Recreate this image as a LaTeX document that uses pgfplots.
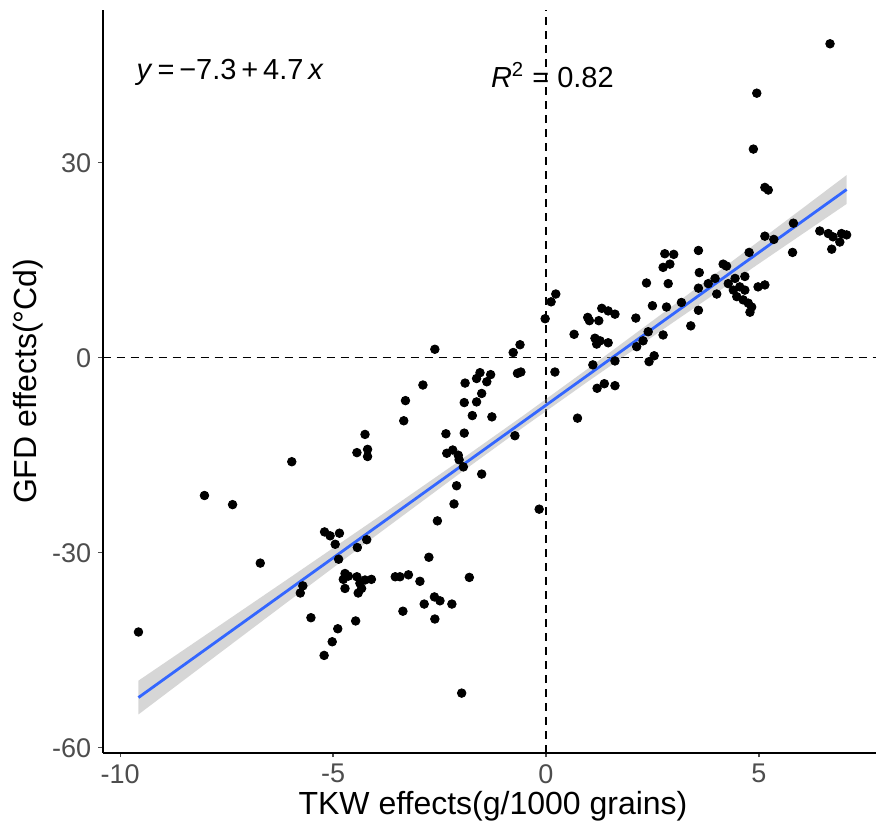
\documentclass[border=0pt]{standalone}
\usepackage{pgfplots}
\pgfplotsset{compat=1.18}
\usepackage{fontspec}
\setmainfont{Liberation Sans}
\definecolor{lineblue}{HTML}{3366FF}
\definecolor{ribbongray}{HTML}{999999}
\definecolor{ticktext}{HTML}{4D4D4D}
\begin{document}
\begin{tikzpicture}
\begin{axis}[
  name=ax,
  at={(0,0)}, anchor=south west,
  scale only axis, width=386.65pt, height=371.35pt,
  xmin=-10.41, xmax=7.75, ymin=-60.77, ymax=53.5,
  axis lines=left,
  axis line style={-, line width=1.1pt, black},
  xtick={-10,-5,0,5}, xticklabels={-10,-5,0,5},
  ytick={-60,-30,0,30}, yticklabels={-60,-30,0,30},
  tick align=outside, major tick length=2.2pt,
  tick style={line width=0.6pt, ticktext},
  tick label style={font=\fontsize{13.5}{16}\selectfont, text=ticktext},
  xlabel={TKW effects(g/1000 grains)},
  ylabel={GFD effects(°Cd)},
  label style={font=\fontsize{16}{18}\selectfont, text=black},
  xlabel style={at={(axis description cs:0.5047,-0.0725)}, anchor=center},
  ylabel style={at={(axis description cs:-0.0966,0.5)}, anchor=center},
  clip=false,
]
\addplot[black, dashed, line width=0.6pt, dash pattern=on 4pt off 3pt, forget plot] coordinates {(0,-60.77) (0,53.5)};
\addplot[black, dashed, line width=0.6pt, dash pattern=on 4pt off 3pt, forget plot] coordinates {(-10.41,0) (7.75,0)};
\addplot[only marks, mark=*, mark size=2.15pt, black] coordinates {
(-5.97,-16.0) (-8.02,-21.2) (-7.36,-22.6) (-6.71,-31.6) (-9.57,-42.2)
(-5.20,-26.8) (-5.07,-27.4) (-4.85,-27.0) (-4.95,-28.7) (-4.87,-31.0)
(-4.72,-33.2) (-4.76,-34.1) (-4.72,-35.5) (-5.71,-35.1) (-5.77,-36.2)
(-5.52,-40.0) (-4.89,-41.7) (-5.02,-43.7) (-5.21,-45.8)
(-2.61,1.3) (-0.77,0.8) (-0.61,2.0) (0.21,-2.2) (-0.67,-2.4) (-0.59,-2.2)
(-1.55,-2.3) (-1.63,-3.2) (-1.39,-3.7) (-1.30,-2.6) (-1.90,-3.9) (-1.51,-5.5)
(-1.63,-6.8) (-1.92,-6.9) (-1.73,-8.9) (-1.27,-9.1) (-2.89,-4.2) (-3.30,-6.6)
(-3.34,-9.7) (-2.35,-11.7) (-1.92,-11.6) (-0.73,-12.0) (-4.25,-11.8) (-4.44,-14.6)
(-4.19,-14.1) (-4.19,-15.2) (-2.33,-14.7) (-2.19,-14.2) (-2.06,-15.0) (-2.04,-15.7)
(-1.94,-16.8) (-1.51,-17.9) (-2.10,-19.7) (-2.16,-22.5) (-2.55,-25.1) (-0.16,-23.3)
(-4.21,-28.0) (-4.43,-29.2) (-2.75,-30.7) (-4.64,-33.6) (-4.44,-33.7) (-4.37,-34.7)
(-4.25,-34.2) (-4.10,-34.1) (-4.33,-35.5) (-4.41,-36.2) (-3.54,-33.7) (-3.43,-33.7)
(-3.23,-33.4) (-2.96,-34.4) (-1.80,-33.8) (-4.47,-40.5) (-3.36,-39.0) (-2.86,-37.9)
(-2.62,-36.8) (-2.49,-37.4) (-2.21,-37.9) (-2.61,-40.2) (-1.98,-51.6)
(-0.02,6.0) (0.12,8.6) (0.23,9.8) (0.74,-9.3) (0.66,3.6) (0.98,6.2) (1.02,5.7)
(1.24,5.7) (1.31,7.6) (1.46,7.2) (1.62,6.7) (1.15,3.0) (1.27,2.6) (1.46,2.3)
(1.19,2.1) (1.10,-1.1) (1.62,-0.5) (1.20,-4.7) (1.37,-4.0) (1.62,-4.3) (2.11,6.1)
(2.13,1.7) (2.28,2.6) (2.40,4.0) (2.42,-0.6) (2.54,0.3) (2.36,11.5) (2.50,8.0)
(2.75,3.5) (2.79,16.0) (3.00,15.9) (2.75,13.9) (2.91,14.4) (2.87,11.4) (2.83,7.8)
(3.18,8.5) (3.40,4.9) (3.58,16.5) (3.60,13.1) (3.58,7.3) (3.58,10.7)
(6.67,48.3) (4.95,40.7) (4.87,32.1) (5.14,26.2) (5.22,25.8) (5.81,20.7) (6.43,19.5)
(6.63,19.1) (6.74,18.6) (6.94,19.1) (7.06,18.9) (6.90,17.8) (6.71,16.7) (5.79,16.2)
(5.14,18.7) (5.35,18.2) (4.77,16.2) (4.16,14.4) (4.24,14.1) (3.97,12.2) (3.81,11.4)
(4.28,11.4) (4.44,12.2) (4.67,12.5) (4.55,10.9) (4.40,10.4) (4.67,10.4) (4.48,9.4)
(4.63,8.9) (4.75,8.4) (4.83,7.8) (4.79,7.0) (4.01,9.8) (4.98,10.9) (5.14,11.2)
};
\addplot[fill=ribbongray, fill opacity=0.4, draw=none] coordinates {
(-9.57,-49.68) (-8,-42.69) (-6,-33.77) (-4,-24.80) (-2,-15.71) (-0.5,-8.75)
(1,-1.61) (3,8.10) (5,17.93) (7.06,28.10)
(7.06,23.66) (5,14.47) (3,5.50) (1,-3.59) (-0.5,-10.55) (-2,-17.69)
(-4,-27.40) (-6,-37.23) (-8,-47.11) (-9.57,-54.88)
} -- cycle;
\addplot[lineblue, line width=1.4pt] coordinates {(-9.57,-52.28) (7.06,25.88)};
\node[anchor=west, font=\fontsize{14.5}{17}\selectfont, inner sep=0pt] at (axis cs:-9.62,43.95)
  {\textit{y}\,=\,−7.3\,+\,4.7\,\textit{x}};
\node[anchor=west, font=\fontsize{14.5}{17}\selectfont, inner sep=0pt] at (axis cs:-1.30,43.5)
  {\textit{R}\textsuperscript{2} = 0.82};
\end{axis}
\pgfresetboundingbox
\path ([xshift=-51.35pt,yshift=-39.15pt]ax.south west) rectangle ([yshift=5pt]ax.north east);
\end{tikzpicture}
\end{document}
